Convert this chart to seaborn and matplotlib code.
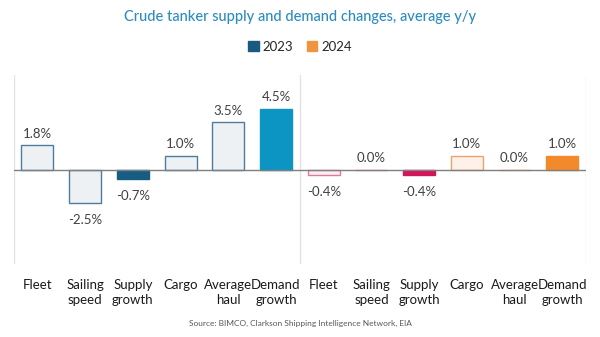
import matplotlib
matplotlib.use("Agg")
import matplotlib.pyplot as plt
from matplotlib.patches import Patch
import seaborn as sns
import pandas as pd

categories = ["Fleet", "Sailing\nspeed", "Supply\ngrowth", "Cargo", "Average\nhaul", "Demand\ngrowth",
              "Fleet", "Sailing\nspeed", "Supply\ngrowth", "Cargo", "Average\nhaul", "Demand\ngrowth"]
values = [1.8, -2.5, -0.7, 1.0, 3.5, 4.5,
          -0.4, 0.0, -0.4, 1.0, 0.0, 1.0]
labels = ["1.8%", "-2.5%", "-0.7%", "1.0%", "3.5%", "4.5%",
          "-0.4%", "0.0%", "-0.4%", "1.0%", "0.0%", "1.0%"]
fills = ["#eef1f4", "#eef1f4", "#175d83", "#eef1f4", "#eef1f4", "#0c95c3",
         "#fdeef2", "#fdeef2", "#d3145a", "#fdf1ea", "#fdf1ea", "#f28a2c"]
edges = ["#4f7c9c", "#4f7c9c", "#175d83", "#4f7c9c", "#4f7c9c", "#0c95c3",
         "#e07898", "#e07898", "#d3145a", "#f0a070", "#f0a070", "#f28a2c"]
legend_names = ["2023", "2024"]
legend_colors = ["#1b5a80", "#f0953f"]

sns.set_theme(style="white")
plt.rcParams["font.family"] = ["Lato", "DejaVu Sans"]

keys = [f"k{i}" for i in range(len(values))]
df = pd.DataFrame({"key": keys, "value": values})

fig = plt.figure(figsize=(6.0, 3.37), dpi=100)
ax = fig.add_axes([0.0225, 0.2166, 0.9545, 0.5608])
sns.barplot(data=df, x="key", y="value", hue="key", order=keys, hue_order=keys,
            palette=dict(zip(keys, fills)), legend=False, width=0.67, saturation=1,
            linewidth=1.0, ax=ax)
for p, ec in zip(ax.patches, edges):
    p.set_edgecolor(ec)
    p.set_linewidth(1.0)

ax.set_ylim(-7, 7)
ax.set_xlim(-0.5, 11.5)
for s in ax.spines.values():
    s.set_visible(False)
ax.axhline(0, color="#7f7f7f", lw=1.0, zorder=3)
for xv in [-0.5, 5.5, 11.5]:
    ax.axvline(xv, color="#e3e3e3", lw=1.0, zorder=0)
ax.set_yticks([])
ax.set_xlabel("")
ax.set_ylabel("")
ax.set_xticks(range(len(categories)))
ax.set_xticklabels(categories, fontsize=9.5, color="#1a1a1a", linespacing=1.3)
ax.tick_params(axis="x", length=0, pad=11)

for i, (v, lab) in enumerate(zip(values, labels)):
    if v < 0:
        ax.annotate(lab, (i, v), xytext=(0, -8), textcoords="offset points",
                    ha="center", va="top", fontsize=9.5, color="#404040")
    else:
        ax.annotate(lab, (i, v), xytext=(0, 4), textcoords="offset points",
                    ha="center", va="bottom", fontsize=9.5, color="#404040")

fig.text(0.5, 1 - 17 / 337, "Crude tanker supply and demand changes, average y/y",
         ha="center", va="center", fontsize=10.5, color="#2b8cbf", fontweight="medium")
handles = [Patch(facecolor=c, edgecolor=c) for c in legend_colors]
fig.legend(handles, legend_names, loc="center", bbox_to_anchor=(0.5, 1 - 47 / 337),
           ncol=2, frameon=False, handlelength=0.8, handleheight=0.8,
           handletextpad=0.3, columnspacing=1.0, prop={"size": 9.5})
fig.text(0.5, 1 - 323 / 337, "Source: BIMCO, Clarkson Shipping Intelligence Network, EIA",
         ha="center", va="center", fontsize=6, color="#595959")

fig.savefig("out.png", dpi=100)
